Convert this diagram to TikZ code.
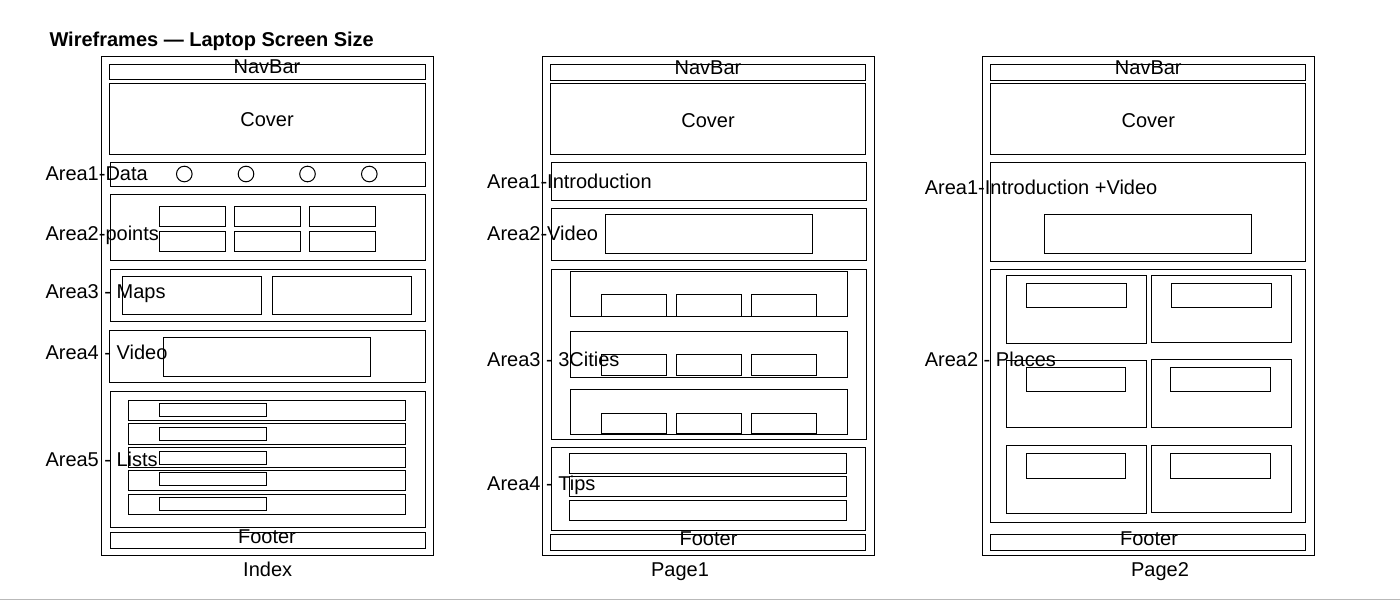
\documentclass[tikz,border=0pt]{standalone}
\usepackage{fontspec}
\setmainfont{Liberation Sans}
\usepackage{tikz}
\usetikzlibrary{positioning}
\newcommand{\wfUnit}{0.5pt}
\newcommand{\wfFont}{\fontsize{10}{12}\selectfont}
\tikzset{
	wftext/.style={font=\wfFont, inner sep=0pt, text height=7.16pt, text depth=0pt},
	arealabel/.style={wftext, anchor=west},
}

\begin{document}
\begin{tikzpicture}[x=\wfUnit, y=-\wfUnit, line width=0.5pt, every node/.style={wftext}]
	\useasboundingbox (0,0) rectangle (1400,600);
	\draw[gray!55] (0,599) -- (1400,599);
	\node[arealabel, font=\wfFont\bfseries] (title) at (49,39.7) {Wireframes — Laptop Screen Size};
	%index
		\draw (101,56) rectangle (433.5,555.5);
		\draw (109.5,64.3) rectangle (425,79.7);
		\draw (109.5,83.3) rectangle (425,154.3);
		\draw (110,162.3) rectangle (425,186);
		\draw (184.3,174) circle[radius=3.9pt];
		\draw (246,174) circle[radius=3.9pt];
		\draw (307.5,174) circle[radius=3.9pt];
		\draw (369.3,174) circle[radius=3.9pt];
		\draw (110,194.3) rectangle (425,260);
		\draw (159.3,206.7) rectangle (225.3,226.3);
		\draw (234.3,206.7) rectangle (300.7,226.3);
		\draw (309.3,206.7) rectangle (375.3,226.3);
		\draw (159.3,231.3) rectangle (225.3,251.7);
		\draw (234.3,231.3) rectangle (300.7,251.7);
		\draw (309.3,231.3) rectangle (375.3,251.7);
		\draw (110,269.3) rectangle (425,321.7);
		\draw (122.3,276.3) rectangle (261.3,314.3);
		\draw (272.3,276.3) rectangle (411.7,314.3);
		\draw (109.5,330.3) rectangle (425,382.3);
		\draw (163.3,337.3) rectangle (370.3,376.3);
		\draw (110,391.3) rectangle (425,527.3);
		\draw (128.3,400.3) rectangle (405.7,420.3);
		\draw (128.3,423.7) rectangle (405.7,444.3);
		\draw (128.3,447.7) rectangle (405.7,467.3);
		\draw (128.3,470.3) rectangle (405.7,490.3);
		\draw (128.3,494.3) rectangle (405.7,514.3);
		\draw (159.3,403.3) rectangle (266.7,416.7);
		\draw (159.3,427.3) rectangle (266.7,440.7);
		\draw (159.3,451.3) rectangle (266.7,464.3);
		\draw (159.3,472.7) rectangle (266.7,485.3);
		\draw (159.3,497.3) rectangle (266.7,510.7);
		\draw (110,532.3) rectangle (425,548.3);
		\node (idxNav) at (267,66.5) {NavBar};
		\node (idxCover) at (267,119.3) {Cover};
		\node (idxFooter) at (267,536.5) {Footer};
		\node (idxName) at (267.7,569.3) {Index};
		\node[arealabel] (idxArea1) at (45,173.3) {Area1-Data};
		\node[arealabel] (idxArea2) at (45,233) {Area2-points};
		\node[arealabel] (idxArea3) at (45,291.7) {Area3 - Maps};
		\node[arealabel] (idxArea4) at (45,352) {Area4 - Video};
		\node[arealabel] (idxArea5) at (45,459.2) {Area5 - Lists};
	%page1
		\draw (542.3,56) rectangle (874.3,555.7);
		\draw (550.3,64.3) rectangle (865.7,80);
		\draw (550.3,83.3) rectangle (865.7,154);
		\draw (551.3,162.3) rectangle (866.3,200.3);
		\draw (551.3,208.3) rectangle (866.3,260.3);
		\draw (605.3,214.3) rectangle (812.3,253.3);
		\draw (551.3,269.3) rectangle (866.3,439);
		\draw (570.3,271.3) rectangle (847.3,316);
		\draw (570.3,331.3) rectangle (847.3,377.3);
		\draw (570.3,389.3) rectangle (847.3,434.3);
		\draw (601,294.3) rectangle (666.3,316);
		\draw (676.3,294.3) rectangle (741.3,316);
		\draw (751.3,294.3) rectangle (816.3,316);
		\draw (601,354.3) rectangle (666.3,375.3);
		\draw (676.3,354.3) rectangle (741.3,375.3);
		\draw (751.3,354.3) rectangle (816.3,375.3);
		\draw (601,413.3) rectangle (666.3,433.7);
		\draw (676.3,413.3) rectangle (741.3,433.7);
		\draw (751.3,413.3) rectangle (816.3,433.7);
		\draw (551.3,447) rectangle (865.7,530.3);
		\draw (569.3,453.3) rectangle (846.7,473.3);
		\draw (569.3,476.3) rectangle (846.7,496.3);
		\draw (569.3,500.3) rectangle (846.7,520.3);
		\draw (550.3,534.3) rectangle (865.7,550);
		\node (pgOneNav) at (708,67.2) {NavBar};
		\node (pgOneCover) at (708,120) {Cover};
		\node (pgOneFooter) at (708.5,538.3) {Footer};
		\node (pgOneName) at (680,569.3) {Page1};
		\node[arealabel] (pgOneArea1) at (486.7,181.7) {Area1-Introduction};
		\node[arealabel] (pgOneArea2) at (486.7,233.3) {Area2-Video};
		\node[arealabel] (pgOneArea3) at (486.7,359.2) {Area3 - 3Cities};
		\node[arealabel] (pgOneArea4) at (486.7,483.3) {Area4 - Tips};
	%page2
		\draw (982.3,56) rectangle (1314,555.7);
		\draw (990.3,64.3) rectangle (1305.3,80);
		\draw (990.3,83.3) rectangle (1305.3,154);
		\draw (990.3,162.3) rectangle (1305.3,261);
		\draw (1044.3,214.3) rectangle (1251.3,253.3);
		\draw (990.3,269.3) rectangle (1305.3,522);
		\draw (1006.3,275.7) rectangle (1146.3,343.3);
		\draw (1151.3,275.7) rectangle (1291.7,342.3);
		\draw (1006.3,360.3) rectangle (1146.3,427.3);
		\draw (1151.3,359.3) rectangle (1291.7,427.3);
		\draw (1006.3,445) rectangle (1146.3,513);
		\draw (1151.3,445) rectangle (1291.7,512);
		\draw (1026.3,283.3) rectangle (1126.3,307.3);
		\draw (1171.3,283.3) rectangle (1271.7,307.3);
		\draw (1026.3,367.3) rectangle (1125.3,391);
		\draw (1170.3,367.3) rectangle (1270.3,391);
		\draw (1026.3,453.3) rectangle (1125.3,478.3);
		\draw (1170.3,453.3) rectangle (1270.3,478.3);
		\draw (990.3,534.3) rectangle (1305.3,550);
		\node (pgTwoNav) at (1148.3,67.2) {NavBar};
		\node (pgTwoCover) at (1148.3,120) {Cover};
		\node (pgTwoFooter) at (1149,538) {Footer};
		\node (pgTwoName) at (1160,569.3) {Page2};
		\node[arealabel] (pgTwoArea1) at (924.3,187.7) {Area1-Introduction +Video};
		\node[arealabel] (pgTwoArea2) at (924.3,359.2) {Area2 - Places};
	%end
\end{tikzpicture}
\end{document}
